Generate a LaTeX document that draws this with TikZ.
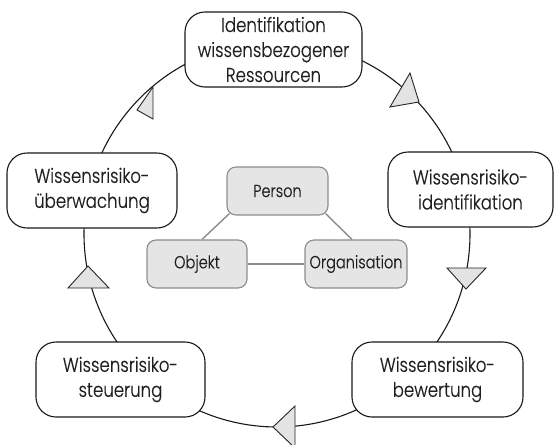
\documentclass[tikz,border=0pt]{standalone}
\usepackage{fontspec}
\IfFontExistsTF{Poppins Light}
  {\setmainfont{Poppins Light}[FakeStretch=0.83, FakeBold=0.5]}
  {\setmainfont{Poppins}[FakeStretch=0.83]}
\usetikzlibrary{calc}

\begin{document}
\begin{tikzpicture}[x=1pt, y=1pt,
  stage/.style={draw=black!90, line width=1.1pt, fill=white, rounded corners=20pt,
    minimum height=75pt, inner sep=0pt, align=center, text=black!88,
    font=\fontsize{20}{25}\selectfont},
  facet/.style={draw=black!45, fill=black!10, line width=1.1pt, rounded corners=9pt,
    minimum width=101pt, minimum height=48pt, inner sep=0pt, text=black!88,
    font=\fontsize{17.5}{21}\selectfont},
  cyc/.style={draw=black!90, line width=1.1pt},
  link/.style={draw=black!45, line width=1.4pt},
  tri/.style={fill=black!11, draw=black!85, line width=0.9pt, line join=miter}]

\useasboundingbox (0,0) rectangle (555,-445);

% centre of the process cycle
\coordinate (hub) at (277,-234);
\def\cycR{193}

% the cycle, drawn first so that the stage boxes cover its ends
\draw[cyc] (hub) ++(67:\cycR)  arc[start angle=67,  end angle=23,  radius=\cycR];
\draw[cyc] (hub) ++(4:\cycR)   arc[start angle=4,   end angle=-35, radius=\cycR];
\draw[cyc] (hub) ++(-64:\cycR) arc[start angle=-64, end angle=-116, radius=\cycR];
\draw[cyc] (hub) ++(216:\cycR) arc[start angle=216, end angle=176, radius=\cycR];
\draw[cyc] (hub) ++(157:\cycR) arc[start angle=157, end angle=115, radius=\cycR];

% stages of the knowledge-risk cycle
\node[stage, minimum width=177pt] (res)    at (273.5,-49.5) {Identifikation\\wissensbezogener\\Ressourcen};
\node[stage, minimum width=165pt] (ident)  at (470.5,-189.5) {Wissensrisiko-\\identifikation};
\node[stage, minimum width=171pt] (bewert) at (437.5,-379.5) {Wissensrisiko-\\bewertung};
\node[stage, minimum width=169pt] (steuer) at (120.5,-379.5) {Wissensrisiko-\\steuerung};
\node[stage, minimum width=170pt] (ueberw) at (92,-190.5)    {Wissensrisiko-\\überwachung};

% direction marks on the cycle
\draw[tri] (410,-73)  -- (390,-107) -- (419,-102) -- cycle;
\draw[tri] (447,-268) -- (486,-268) -- (466,-289) -- cycle;
\draw[tri] (273,-427) -- (295,-406) -- (295,-448) -- cycle;
\draw[tri] (88,-266)  -- (68,-288)  -- (109,-288) -- cycle;
\draw[tri] (153,-87)  -- (153,-119) -- (137,-110) -- cycle;

% the three knowledge carriers
\node[facet] (person) at (277.5,-191) {Person};
\node[facet, minimum width=100pt] (objekt) at (197,-264) {Objekt};
\node[facet, minimum width=102pt] (org)    at (356,-264) {Organisation};

\draw[link] ([xshift=3pt,yshift=2pt]person.south west) -- ([xshift=5pt]objekt.north);
\draw[link] ([xshift=-3pt,yshift=2pt]person.south east) -- ([xshift=-4pt]org.north);
\draw[link] (objekt.east) -- (org.west);
\end{tikzpicture}
\end{document}
